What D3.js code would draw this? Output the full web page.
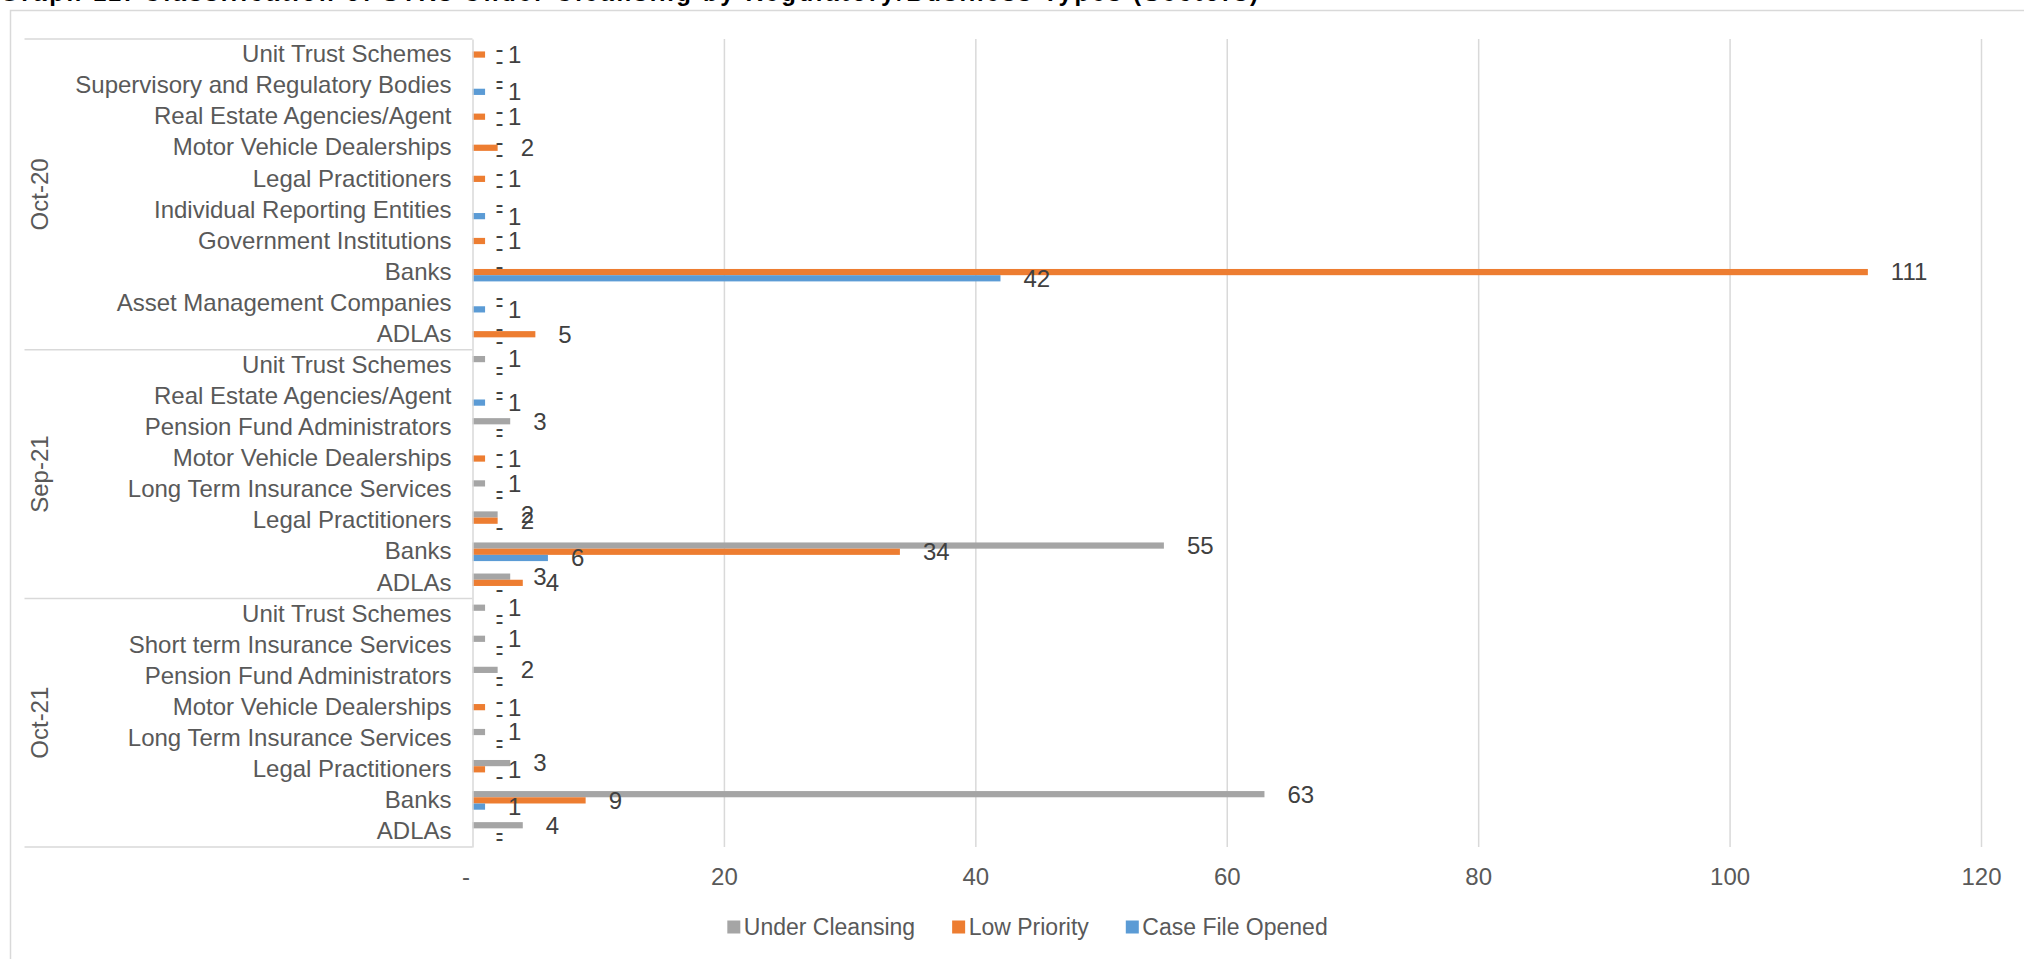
<!DOCTYPE html>
<html>
<head>
<meta charset="utf-8">
<script src="https://cdn.jsdelivr.net/npm/d3@7"></script>
<style>
  html, body { margin: 0; padding: 0; background: #ffffff; overflow: hidden; }
  svg { display: block; font-family: "Liberation Sans", Arial, sans-serif; }
</style>
</head>
<body>
<svg id="chart" width="2024" height="959"></svg>
<script>
// ---------- DATA ----------
const titleText = "Graph 11: Classification of STRs Under Cleansing by Regulatory/Business Types (Sectors)";
const groups = ["Oct-20", "Sep-21", "Oct-21"];
const oct20Categories = ["Unit Trust Schemes", "Supervisory and Regulatory Bodies", "Real Estate Agencies/Agent",
  "Motor Vehicle Dealerships", "Legal Practitioners", "Individual Reporting Entities", "Government Institutions",
  "Banks", "Asset Management Companies", "ADLAs"];
const sep21Categories = ["Unit Trust Schemes", "Real Estate Agencies/Agent", "Pension Fund Administrators",
  "Motor Vehicle Dealerships", "Long Term Insurance Services", "Legal Practitioners", "Banks", "ADLAs"];
const oct21Categories = ["Unit Trust Schemes", "Short term Insurance Services", "Pension Fund Administrators",
  "Motor Vehicle Dealerships", "Long Term Insurance Services", "Legal Practitioners", "Banks", "ADLAs"];
const seriesNames = ["Under Cleansing", "Low Priority", "Case File Opened"];
const seriesColors = ["#A5A5A5", "#ED7D31", "#5B9BD5"];
// values per row, top to bottom (Oct-20, then Sep-21, then Oct-21)
const underCleansing = [0,0,0,0,0,0,0,0,0,0,   1,0,3,0,1,2,55,3,   1,1,2,0,1,3,63,4];
const lowPriority    = [1,0,1,2,1,0,1,111,0,5, 0,0,0,1,0,2,34,4,   0,0,0,1,0,1,9,0];
const caseFileOpened = [0,1,0,0,0,1,0,42,1,0,  0,1,0,0,0,0,6,0,    0,0,0,0,0,0,1,0];
const xTicks = [0, 20, 40, 60, 80, 100, 120];

// ---------- BUILD ROWS ----------
const groupCats = [oct20Categories, sep21Categories, oct21Categories];
const rows = [];
groupCats.forEach((cats, g) => cats.forEach(c => rows.push({ group: groups[g], category: c })));
const seriesValues = [underCleansing, lowPriority, caseFileOpened];

// ---------- LAYOUT ----------
const svg = d3.select("#chart");
const plotLeft = 472.5, plotRight = 1981, plotTop = 39, plotBottom = 847;
const textColor = "#595959", labelColor = "#404040", lineColor = "#D9D9D9";
const fs = 24;

// chart border
svg.append("rect").attr("x", 10.5).attr("y", 10.5).attr("width", 2100).attr("height", 1000)
  .attr("fill", "none").attr("stroke", lineColor).attr("stroke-width", 1.5);

// title (mostly above the visible area)
svg.append("text").attr("x", 0).attr("y", 0.5).attr("font-size", fs).attr("font-weight", "bold")
  .attr("fill", "#000").attr("textLength", 1258).attr("lengthAdjust", "spacing").text(titleText);

const x = d3.scaleLinear().domain([0, 120]).range([plotLeft, plotRight]);
const y = d3.scaleBand().domain(rows.map((d, i) => i)).range([plotTop, plotBottom]).padding(0);
const bw = y.bandwidth();
const ys = d3.scaleBand().domain(seriesNames).range([bw * 0.2, bw * 0.8]).padding(0);

// gridlines
const grid = svg.append("g").attr("transform", `translate(0,${plotBottom})`)
  .call(d3.axisBottom(x).tickValues(xTicks.filter(t => t !== 0)).tickSize(-(plotBottom - plotTop)).tickFormat(""));
grid.select(".domain").remove();
grid.selectAll("line").attr("stroke", lineColor).attr("stroke-width", 1.5);

// x axis labels
const xa = svg.append("g").attr("transform", `translate(0,${plotBottom})`)
  .call(d3.axisBottom(x).tickValues(xTicks).tickSize(0).tickPadding(20.5)
    .tickFormat(d => d === 0 ? "-" : d3.format("d")(d)));
xa.select(".domain").remove();
xa.selectAll("text").attr("font-size", fs).attr("fill", textColor)
  .attr("font-family", "Liberation Sans, Arial, sans-serif")
  .attr("dx", d => d === 0 ? -7 : 0);

// bars
const bars = svg.append("g");
seriesNames.forEach((s, si) => {
  bars.selectAll(null).data(rows).enter().append("rect")
    .attr("x", x(0))
    .attr("y", (d, i) => y(i) + ys(s))
    .attr("width", (d, i) => x(seriesValues[si][i]) - x(0))
    .attr("height", ys.bandwidth())
    .attr("fill", seriesColors[si]);
});

// value labels
const labels = svg.append("g");
seriesNames.forEach((s, si) => {
  labels.selectAll(null).data(rows).enter().append("text")
    .attr("x", (d, i) => x(seriesValues[si][i]) + 23)
    .attr("y", (d, i) => y(i) + ys(s) + ys.bandwidth() / 2)
    .attr("dy", "0.35em")
    .attr("font-size", fs).attr("fill", labelColor)
    .text((d, i) => seriesValues[si][i] === 0 ? "-" : seriesValues[si][i]);
});

// category axis
const ya = svg.append("g").attr("transform", `translate(${plotLeft},0)`)
  .call(d3.axisLeft(y).tickSize(0).tickSizeOuter(0).tickPadding(21).tickFormat(i => rows[i].category));
ya.select(".domain").attr("stroke", lineColor).attr("stroke-width", 1.5);
ya.selectAll("text").attr("font-size", fs).attr("fill", textColor)
  .attr("font-family", "Liberation Sans, Arial, sans-serif");

// group separators and labels
const boxLeft = 24.5;
let start = 0;
const sepYs = [plotTop];
groupCats.forEach((cats, g) => {
  const y0 = y(start), y1 = y(start + cats.length - 1) + bw;
  sepYs.push(y1);
  svg.append("text")
    .attr("transform", `translate(39.5,${(y0 + y1) / 2}) rotate(-90)`)
    .attr("text-anchor", "middle").attr("dy", "0.35em")
    .attr("font-size", fs).attr("fill", textColor).text(groups[g]);
  start += cats.length;
});
svg.append("g").selectAll("line").data(sepYs).enter().append("line")
  .attr("x1", boxLeft).attr("x2", plotLeft).attr("y1", d => d).attr("y2", d => d)
  .attr("stroke", lineColor).attr("stroke-width", 1.5);

// legend
const legend = svg.append("g");
const legendY = 927, sq = 13, gapSq = 3.5, gapItem = 37;
const items = seriesNames.map((s, i) => {
  const g = legend.append("g");
  g.append("rect").attr("x", 0).attr("y", legendY - sq / 2).attr("width", sq).attr("height", sq).attr("fill", seriesColors[i]);
  const t = g.append("text").attr("x", sq + gapSq).attr("y", legendY).attr("dy", "0.35em")
    .attr("font-size", 23).attr("fill", textColor).text(s);
  return { g, w: sq + gapSq + t.node().getComputedTextLength() };
});
const totalW = d3.sum(items, d => d.w) + gapItem * (items.length - 1);
let lx = 1027.5 - totalW / 2;
items.forEach(it => { it.g.attr("transform", `translate(${lx},0)`); lx += it.w + gapItem; });
</script>
</body>
</html>
